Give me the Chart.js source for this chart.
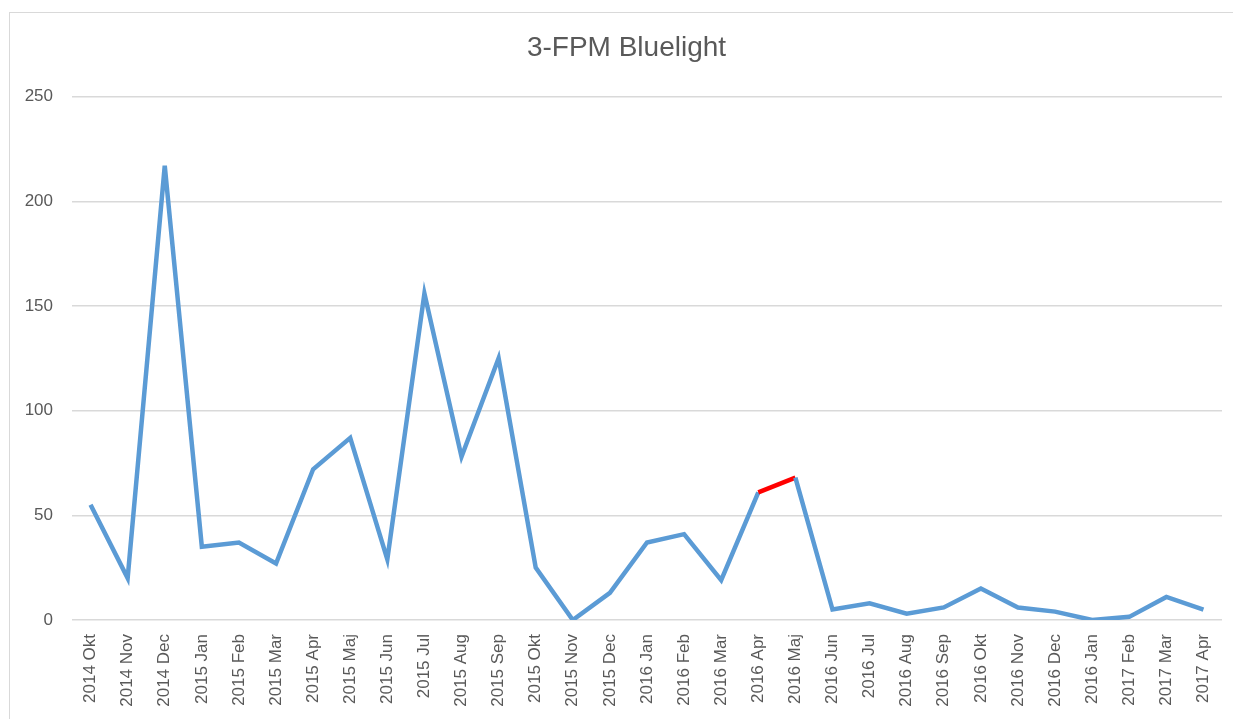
<!DOCTYPE html>
<html>
<head>
<meta charset="utf-8">
<script src="https://cdn.jsdelivr.net/npm/chart.js@4"></script>
<style>
  body { margin: 0; background: #fff; }
  #frame { position: absolute; left: 9px; top: 12px; width: 1240px; height: 720px; border: 1px solid #d9d9d9; box-sizing: border-box; }
  #wrap { position: absolute; left: 0; top: 0; width: 1233px; height: 719px; }
</style>
</head>
<body>
<div id="frame"></div>
<div id="wrap"><canvas id="chart" width="1233" height="719"></canvas></div>
<script>
// kategorier (månader)
const months = [
  '2014 Okt', '2014 Nov', '2014 Dec',
  '2015 Jan', '2015 Feb', '2015 Mar', '2015 Apr', '2015 Maj', '2015 Jun',
  '2015 Jul', '2015 Aug', '2015 Sep', '2015 Okt', '2015 Nov', '2015 Dec',
  '2016 Jan', '2016 Feb', '2016 Mar', '2016 Apr', '2016 Maj', '2016 Jun',
  '2016 Jul', '2016 Aug', '2016 Sep', '2016 Okt', '2016 Nov', '2016 Dec',
  '2016 Jan', '2017 Feb', '2017 Mar', '2017 Apr'
];
const counts = [
  55, 20, 217,
  35, 37, 27, 72, 87, 29,
  156, 78, 125, 25, 0, 13,
  37, 41, 19, 61, 68, 5,
  8, 3, 6, 15, 6, 4,
  0, 1.5, 11, 5
];
const yTicks = [0, 50, 100, 150, 200, 250];
const redFrom = months.indexOf('2016 Apr');

const textColor = '#595959';
const gridColor = '#d9d9d9';
const fontFamily = 'Liberation Sans, Arial, sans-serif';

// titeln centreras över hela ramen, inte bara canvasen
const shiftTitle = {
  id: 'shiftTitle',
  beforeDraw(chart) {
    if (chart.titleBlock) {
      chart.titleBlock.left = 20;
      chart.titleBlock.right = 1233;
    }
  }
};

new Chart(document.getElementById('chart'), {
  type: 'line',
  data: {
    labels: months,
    datasets: [{
      data: counts,
      borderColor: '#5b9bd5',
      borderWidth: 4.5,
      pointRadius: 0,
      tension: 0,
      borderJoinStyle: 'miter',
      segment: {
        borderColor: ctx => ctx.p0DataIndex === redFrom ? '#ff0000' : undefined
      }
    }]
  },
  options: {
    responsive: false,
    animation: false,
    layout: { padding: { left: 0, right: 11, top: 0, bottom: 0 } },
    plugins: {
      legend: { display: false },
      tooltip: { enabled: false },
      title: {
        display: true,
        text: '3-FPM Bluelight',
        color: textColor,
        font: { family: fontFamily, size: 28, weight: 'normal' },
        padding: { top: 31, bottom: 32 }
      }
    },
    scales: {
      x: {
        offset: true,
        grid: { display: false },
        border: { display: false },
        ticks: {
          color: textColor,
          font: { family: fontFamily, size: 17 },
          maxRotation: 90,
          minRotation: 90,
          autoSkip: false,
          padding: 6
        },
        afterFit: s => { s.height = 99; }
      },
      y: {
        min: 0,
        max: 250,
        afterBuildTicks: s => { s.ticks = yTicks.map(v => ({ value: v })); },
        grid: { color: gridColor, lineWidth: 1.5, drawTicks: false },
        border: { display: false },
        ticks: {
          color: textColor,
          font: { family: fontFamily, size: 17 },
          padding: 19
        },
        afterFit: s => { s.width = 72; }
      }
    }
  },
  plugins: [shiftTitle]
});
</script>
</body>
</html>
